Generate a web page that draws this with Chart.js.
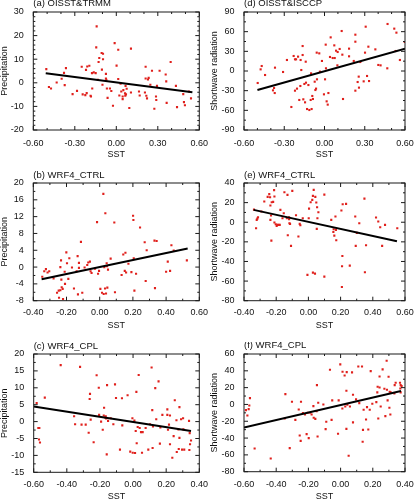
<!DOCTYPE html>
<html><head><meta charset="utf-8">
<script src="https://cdn.jsdelivr.net/npm/chart.js@4.4.0/dist/chart.umd.min.js"></script>
<style>
html,body{margin:0;padding:0;background:#fff;overflow:hidden;}
#wrap{position:relative;width:417px;height:500px;overflow:hidden;}
#wrap canvas{position:absolute;}
</style></head><body><div id="wrap"></div>
<script>
// ---------- DATA ----------
// scatter points [SST anomaly, value]
const ptsA = [[-0.506,5.8],[-0.487,-1.8],[-0.472,-2.4],[-0.431,0.1],[-0.395,1.7],[-0.378,4.2],[-0.364,6.2],[-0.373,-1.0],[-0.316,-4.8],[-0.284,-3.4],[-0.25,6.8],[-0.243,-4.9],[-0.224,-5.2],[-0.214,-4.4],[-0.219,5.5],[-0.21,6.9],[-0.195,7.2],[-0.186,-5.5],[-0.183,-5.8],[-0.176,4.1],[-0.174,-2.4],[-0.163,4.4],[-0.149,4.1],[-0.142,23.9],[-0.145,15.0],[-0.133,1.3],[-0.128,8.8],[-0.123,10.5],[-0.106,12.6],[-0.104,5.6],[-0.096,12.3],[-0.096,10.0],[-0.1,-0.8],[-0.075,1.8],[-0.072,1.3],[-0.075,3.8],[-0.068,-2.4],[-0.063,-6.4],[-0.046,-2.4],[-0.036,-3.5],[-0.024,-9.7],[-0.012,16.8],[0.002,7.3],[0.014,14.0],[0.014,1.6],[0.022,-5.4],[0.031,-0.4],[0.036,-3.7],[0.046,-5.8],[0.046,-6.9],[0.051,-3.1],[0.063,-4.5],[0.065,-5.5],[0.07,-4.9],[0.075,-2.5],[0.067,-1.3],[0.094,-10.7],[0.106,14.5],[0.106,-4.1],[0.164,-3.7],[0.169,-5.4],[0.207,-4.1],[0.212,6.8],[0.212,1.8],[0.217,-5.5],[0.222,-6.6],[0.229,1.4],[0.234,2.1],[0.246,-0.8],[0.258,5.1],[0.275,-11.0],[0.287,-5.8],[0.289,-7.3],[0.294,-1.3],[0.313,5.1],[0.357,3.5],[0.361,0.6],[0.364,-8.5],[0.393,8.8],[0.431,-1.3],[0.439,-10.3],[0.484,-4.8],[0.489,-8.2],[0.496,-9.5],[0.54,-6.6],[0.525,-3.7]];
const ptsD = [[-0.498,-18.3],[-0.476,2.5],[-0.468,7.6],[-0.443,-6.1],[-0.384,-29.5],[-0.376,-25.9],[-0.371,-33.6],[-0.369,5.1],[-0.309,-1.5],[-0.28,16.8],[-0.247,-54.9],[-0.23,22.9],[-0.22,17.8],[-0.212,17.8],[-0.22,-30.0],[-0.205,-26.9],[-0.197,21.9],[-0.188,-44.2],[-0.18,-22.9],[-0.178,16.8],[-0.173,1.5],[-0.163,38.1],[-0.163,24.4],[-0.158,-43.2],[-0.15,-19.8],[-0.14,14.2],[-0.138,-17.8],[-0.145,-47.8],[-0.13,-58.0],[-0.12,-21.4],[-0.113,-59.5],[-0.103,-44.2],[-0.1,-3.6],[-0.096,-58.0],[-0.091,-38.1],[-0.086,-42.7],[-0.073,-16.3],[-0.068,-29.0],[-0.063,-26.9],[-0.058,28.0],[-0.056,-12.7],[-0.039,26.9],[-0.034,-1.0],[-0.019,15.3],[-0.004,-35.6],[0.004,-12.7],[0.009,40.2],[0.011,4.1],[0.016,-46.3],[0.024,-51.3],[0.029,-33.6],[0.041,21.4],[0.046,51.3],[0.061,19.8],[0.073,39.1],[0.076,19.8],[0.086,31.0],[0.098,29.0],[0.096,8.6],[0.113,33.6],[0.128,61.0],[0.133,24.9],[0.138,-42.7],[0.183,34.1],[0.183,22.4],[0.218,15.3],[0.23,55.4],[0.23,44.7],[0.23,-30.0],[0.247,-16.8],[0.255,-8.6],[0.257,-25.4],[0.267,13.7],[0.292,-15.8],[0.302,28.0],[0.307,67.6],[0.317,-7.6],[0.327,37.1],[0.332,-15.3],[0.379,33.0],[0.401,9.2],[0.418,8.6],[0.468,4.1],[0.47,71.7],[0.52,64.6],[0.536,58.5],[0.53,30.5],[0.562,16.8],[0.598,44.2]];
const ptsB = [[-0.346,-2.3],[-0.334,-1.0],[-0.324,-0.5],[-0.314,-1.3],[-0.304,-1.0],[-0.278,-2.7],[-0.257,-6.1],[-0.247,-5.6],[-0.245,-7.3],[-0.237,-5.5],[-0.233,1.6],[-0.237,0],[-0.231,-3.0],[-0.229,-4.8],[-0.223,-5.2],[-0.221,-7.6],[-0.211,-1.1],[-0.209,-4.0],[-0.201,3.5],[-0.197,0.9],[-0.189,-2.8],[-0.183,2.1],[-0.167,-0.1],[-0.155,-5.1],[-0.139,-1.0],[-0.133,2.6],[-0.131,-6.5],[-0.125,1.0],[-0.125,-0.2],[-0.113,6.0],[-0.105,-6.1],[-0.091,-0.1],[-0.075,0.5],[-0.069,1.1],[-0.059,1.3],[-0.055,-1.0],[-0.049,-1.4],[-0.028,-0.4],[-0.016,10.7],[-0.01,-1.6],[-0.004,-0.9],[0.004,-5.2],[0.014,-6.1],[0.022,17.4],[0.024,-6.4],[0.028,0],[0.032,-5.1],[0.034,12.8],[0.038,-6.3],[0.042,0.9],[0.044,0.2],[0.046,-4.9],[0.05,-0.6],[0.066,2.0],[0.088,10.6],[0.092,-6.0],[0.132,-1.9],[0.142,3.0],[0.151,-0.9],[0.155,3.4],[0.159,-1.3],[0.173,0.8],[0.191,-1.2],[0.201,12.2],[0.203,11.2],[0.205,2.1],[0.209,-5.6],[0.219,-1.6],[0.243,9.4],[0.271,5.9],[0.277,-3.3],[0.283,4.0],[0.33,6.3],[0.333,-5.0],[0.343,6.2],[0.4,-1.1],[0.41,1.3],[0.424,-0.9],[0.432,5.2],[0.446,3.9],[0.525,1.6]];
const ptsE = [[-0.338,12.9],[-0.325,-6.1],[-0.321,2.4],[-0.317,3.7],[-0.313,5.1],[-0.292,10.9],[-0.274,21.1],[-0.253,25.9],[-0.243,28.6],[-0.238,25.5],[-0.236,17.0],[-0.236,2.4],[-0.232,6.8],[-0.23,-18.7],[-0.228,20.4],[-0.219,20.7],[-0.213,32.7],[-0.211,26.2],[-0.211,-0.3],[-0.203,-2.0],[-0.197,-3.7],[-0.193,-2.7],[-0.186,-2.7],[-0.178,-2.7],[-0.174,12.6],[-0.161,4.1],[-0.153,9.2],[-0.149,30.6],[-0.134,4.1],[-0.13,27.9],[-0.128,-13.3],[-0.12,5.1],[-0.12,3.1],[-0.118,-1.0],[-0.114,-1.7],[-0.108,-24.1],[-0.1,32.0],[-0.077,7.1],[-0.062,-14.6],[-0.054,-1.7],[-0.05,-3.1],[-0.035,4.1],[-0.006,-53.7],[0.002,4.1],[0.004,13.9],[0.014,20.4],[0.024,22.8],[0.028,26.9],[0.033,33.0],[0.028,-51.4],[0.041,-52.4],[0.043,25.9],[0.049,20.1],[0.052,-6.8],[0.054,15.3],[0.056,4.1],[0.062,10.2],[0.099,28.2],[0.099,-55.4],[0.142,2.4],[0.155,-9.9],[0.157,-7.1],[0.161,-13.6],[0.168,5.8],[0.171,-7.8],[0.173,-18.4],[0.205,11.9],[0.208,-66.0],[0.211,-34.4],[0.209,-44.9],[0.213,18.4],[0.234,18.7],[0.257,-44.2],[0.291,5.8],[0.294,-24.1],[0.301,-10.9],[0.316,-1.0],[0.348,24.1],[0.358,-23.5],[0.351,-51.0],[0.42,4.8],[0.434,0.7],[0.446,-5.1],[0.458,-24.1],[0.476,-2.7],[0.552,-6.1]];
const ptsC = [[-0.582,5.5],[-0.572,-1.9],[-0.566,-1.9],[-0.568,-5.3],[-0.562,-6.2],[-0.533,7.1],[-0.437,16.7],[-0.356,1.6],[-0.35,-0.8],[-0.32,16.2],[-0.311,-0.9],[-0.286,-0.9],[-0.268,-3.3],[-0.262,6.7],[-0.26,8.2],[-0.256,0.6],[-0.238,-6.1],[-0.22,13.7],[-0.207,10.0],[-0.205,2.0],[-0.193,0],[-0.183,-2.4],[-0.177,1.8],[-0.175,4.1],[-0.169,1.2],[-0.165,1.6],[-0.163,0.9],[-0.159,-9.7],[-0.157,10.8],[-0.151,0.2],[-0.135,1.0],[-0.119,-0.8],[-0.109,11.0],[-0.103,7.0],[-0.079,-8.3],[-0.067,6.9],[-0.065,-1.1],[-0.033,7.8],[-0.017,-8.9],[-0.004,1.0],[-0.002,-9.2],[0.008,0.3],[0.012,-9.3],[0.016,-2.8],[0.02,8.8],[0.022,-6.4],[0.028,-1.6],[0.034,13.8],[0.04,-1.9],[0.048,-3.1],[0.054,-9.2],[0.058,-3.1],[0.076,-1.9],[0.092,-8.3],[0.102,-0.8],[0.112,16.0],[0.116,3.4],[0.118,-7.8],[0.12,-1.4],[0.134,9.9],[0.14,0.7],[0.154,11.9],[0.162,-6.5],[0.165,-1.7],[0.177,2.0],[0.207,3.6],[0.207,2.0],[0.211,-2.4],[0.217,-0.9],[0.223,-6.7],[0.223,1.8],[0.237,-10.7],[0.245,-4.3],[0.252,6.3],[0.262,0.4],[0.264,-9.0],[0.274,-2.3],[0.276,-8.1],[0.28,4.3],[0.28,-4.8],[0.29,0.7],[0.296,-8.3],[0.302,1.0],[0.304,-2.3],[0.309,-8.3],[0.338,0.2],[0.34,-8.4],[0.342,-3.4],[0.344,-6.7],[0.35,-5.6]];
const ptsF = [[-0.588,-6.7],[-0.579,-13.1],[-0.571,-5.6],[-0.567,-1.2],[-0.563,7.5],[-0.534,-52.4],[-0.434,-64.3],[-0.347,-16.7],[-0.343,12.3],[-0.302,3.2],[-0.316,-52.0],[-0.281,-18.3],[-0.26,-6.0],[-0.254,-36.9],[-0.248,-43.3],[-0.246,3.2],[-0.234,-10.3],[-0.221,-11.9],[-0.211,-35.3],[-0.204,-9.9],[-0.198,-40.1],[-0.188,-9.9],[-0.18,-11.9],[-0.169,-2.0],[-0.167,-15.9],[-0.157,-17.1],[-0.149,-7.9],[-0.147,23.0],[-0.143,-38.1],[-0.139,2.0],[-0.107,0],[-0.093,-29.4],[-0.089,-20.6],[-0.066,41.3],[-0.056,-18.3],[-0.052,4.8],[-0.016,-34.9],[-0.012,4.8],[-0.002,47.6],[0.011,-4.8],[0.012,38.9],[0.025,34.5],[0.029,-2.4],[0.036,16.3],[0.038,38.5],[0.042,-0.4],[0.05,-61.1],[0.036,-29.0],[0.058,-2.4],[0.071,38.1],[0.077,11.5],[0.077,-21.4],[0.096,6.0],[0.11,45.2],[0.116,1.6],[0.133,45.2],[0.137,-44.4],[0.139,-30.2],[0.143,-6.3],[0.158,-17.9],[0.164,-3.2],[0.172,-29.8],[0.181,-6.3],[0.187,39.7],[0.197,0.8],[0.222,2.8],[0.228,14.3],[0.23,21.0],[0.234,-16.7],[0.242,33.3],[0.242,20.2],[0.249,-2.4],[0.261,41.7],[0.272,18.7],[0.278,-13.9],[0.286,52.0],[0.288,17.5],[0.292,4.8],[0.298,32.9],[0.303,-4.0],[0.305,15.1],[0.309,-11.9],[0.311,14.3],[0.334,13.1],[0.336,23.0],[0.342,25.8],[0.369,25.8],[0.371,19.0],[0.373,23.0],[0.373,14.3],[0.379,21.8]];

// regression line end points [x0, x1] and [y0, y1]
const fitXA = [-0.51, 0.55], fitYA = [4.0, -4.0];
const fitXD = [-0.50, 0.60], fitYD = [-29.0, 34.1];
const fitXB = [-0.35, 0.53], fitYB = [-2.9, 4.4];
const fitXE = [-0.34, 0.55], fitYE = [12.6, -19.4];
const fitXC = [-0.60, 0.35], fitYC = [4.5, -2.8];
const fitXF = [-0.60, 0.375], fitYF = [-27.4, 15.9];

// tick labels
const xTicksObs = [-0.6, -0.3, 0, 0.3, 0.6];
const xTicksCtrl = [-0.4, -0.2, 0, 0.2, 0.4, 0.6];
const xTicksCpl = [-0.6, -0.4, -0.2, 0, 0.2, 0.4];
const yTicksA = [-20, -10, 0, 10, 20, 30];
const yTicksD = [-90, -60, -30, 0, 30, 60, 90];
const yTicksB = [-8, -4, 0, 4, 8, 12, 16, 20];
const yTicksE = [-80, -60, -40, -20, 0, 20, 40];
const yTicksC = [-15, -10, -5, 0, 5, 10, 15, 20];
const yTicksF = [-80, -60, -40, -20, 0, 20, 40, 60];

const titles = ['(a) OISST&TRMM', '(d) OISST&ISCCP', '(b) WRF4_CTRL', '(e) WRF4_CTRL', '(c) WRF4_CPL', '(f) WRF4_CPL'];
const xLabel = 'SST';
const yLabelPr = 'Precipitation';
const yLabelSw = 'Shortwave radiation';

// ---------- LAYOUT (page pixels) ----------
const panels = [
  {title: titles[0], pts: ptsA, fx: fitXA, fy: fitYA, xt: xTicksObs, yt: yTicksA, yl: yLabelPr, xMinor: 3, yMinor: 5,
   L: 33.3, R: 199.3, T: 12, B: 130, cx: 0, cw: 217, tickC: 143.3, sstC: 155, yTitleC: 4.5, titleC: 3.5},
  {title: titles[1], pts: ptsD, fx: fitXD, fy: fitYD, xt: xTicksObs, yt: yTicksD, yl: yLabelSw, xMinor: 3, yMinor: 2,
   L: 244, R: 405, T: 12, B: 130, cx: 205, cw: 212, tickC: 143.5, sstC: 155, yTitleC: 214.5, titleC: 3.5},
  {title: titles[2], pts: ptsB, fx: fitXB, fy: fitYB, xt: xTicksCtrl, yt: yTicksB, yl: yLabelPr, xMinor: 2, yMinor: 2,
   L: 33.3, R: 199.3, T: 183, B: 300.7, cx: 0, cw: 217, tickC: 312.5, sstC: 326, yTitleC: 5, titleC: 175},
  {title: titles[3], pts: ptsE, fx: fitXE, fy: fitYE, xt: xTicksCtrl, yt: yTicksE, yl: yLabelSw, xMinor: 2, yMinor: 2,
   L: 244, R: 405, T: 183, B: 300.7, cx: 205, cw: 212, tickC: 313, sstC: 326, yTitleC: 215, titleC: 175},
  {title: titles[4], pts: ptsC, fx: fitXC, fy: fitYC, xt: xTicksCpl, yt: yTicksC, yl: yLabelPr, xMinor: 2, yMinor: 2,
   L: 33.7, R: 199.3, T: 354, B: 472.3, cx: 0, cw: 217, tickC: 484.5, sstC: 496.5, yTitleC: 4.5, titleC: 346},
  {title: titles[5], pts: ptsF, fx: fitXF, fy: fitYF, xt: xTicksCpl, yt: yTicksF, yl: yLabelSw, xMinor: 2, yMinor: 2,
   L: 244, R: 405, T: 354.3, B: 472, cx: 205, cw: 212, tickC: 484.5, sstC: 496.5, yTitleC: 215, titleC: 346}
];

const FONT = '"Liberation Sans", Arial, Helvetica, sans-serif';
const NARROW = '"Liberation Sans Narrow", "Arial Narrow", ' + FONT;

const framePlugin = {
  id: 'frame',
  afterDatasetsDraw(chart) {
    const o = chart.options.plugins.frame;
    const {ctx, chartArea: a} = chart;
    const xs = chart.scales.x, ys = chart.scales.y;
    ctx.save();
    ctx.strokeStyle = '#1a1a1a';
    ctx.lineWidth = 1;
    ctx.strokeRect(a.left, a.top, a.right - a.left, a.bottom - a.top);
    const seg = (x1, y1, x2, y2) => { ctx.beginPath(); ctx.moveTo(x1, y1); ctx.lineTo(x2, y2); ctx.stroke(); };
    const all = (majors, n) => {
      const out = [];
      for (let i = 0; i < majors.length; i++) {
        out.push([majors[i], 4]);
        if (i < majors.length - 1) {
          for (let k = 1; k < n; k++) out.push([majors[i] + (majors[i + 1] - majors[i]) * k / n, 2]);
        }
      }
      return out;
    };
    all(o.xt, o.xMinor).forEach(([v, len]) => {
      const px = xs.getPixelForValue(v);
      seg(px, a.bottom, px, a.bottom - len);
      seg(px, a.top, px, a.top + len);
    });
    all(o.yt, o.yMinor).forEach(([v, len]) => {
      const py = ys.getPixelForValue(v);
      seg(a.left, py, a.left + len, py);
      seg(a.right, py, a.right - len, py);
    });
    ctx.fillStyle = '#111';
    ctx.font = '9.5px ' + NARROW;
    ctx.textBaseline = 'middle';
    ctx.textAlign = 'left';
    ctx.fillText(o.title, a.left, o.titleY);
    ctx.restore();
  }
};

const wrap = document.getElementById('wrap');
panels.forEach(p => {
  const top = p.T - 12;
  const h = Math.round(p.B + 32 - top);
  const cv = document.createElement('canvas');
  cv.width = p.cw; cv.height = h;
  cv.style.left = p.cx + 'px'; cv.style.top = top + 'px';
  cv.style.width = p.cw + 'px'; cv.style.height = h + 'px';
  wrap.appendChild(cv);
  const localL = p.L - p.cx, localR = p.R - p.cx, localB = p.B - top;
  const xAxisH = h - localB;
  const xTickPad = p.tickC - p.B - 4.5;
  const xTitlePad = (top + h) - p.sstC - 4.5;
  const yTitlePad = Math.max(0, p.yTitleC - p.cx - 4.5);
  new Chart(cv, {
    type: 'scatter',
    data: {
      datasets: [
        {data: p.fx.map((v, i) => ({x: v, y: p.fy[i]})), showLine: true, borderColor: '#000', borderWidth: 2,
         pointRadius: 0, order: 0},
        {data: p.pts.map(d => ({x: d[0], y: d[1]})), pointStyle: 'rect', pointRadius: 1.5, borderWidth: 0,
         backgroundColor: '#e0201c', order: 1}
      ]
    },
    options: {
      responsive: false, animation: false, devicePixelRatio: 1,
      layout: {padding: {left: 0, top: 12, right: p.cw - localR, bottom: 0}},
      plugins: {
        legend: {display: false}, tooltip: {enabled: false},
        frame: {xt: p.xt, yt: p.yt, xMinor: p.xMinor, yMinor: p.yMinor, title: p.title, titleY: p.titleC - top}
      },
      scales: {
        x: {
          type: 'linear', position: 'bottom', min: p.xt[0], max: p.xt[p.xt.length - 1],
          afterBuildTicks: s => { s.ticks = p.xt.map(v => ({value: v})); },
          afterFit: s => { s.height = xAxisH; s.paddingLeft = 0; s.paddingRight = 0; },
          grid: {display: false, drawTicks: false}, border: {display: false},
          ticks: {padding: xTickPad, autoSkip: false, maxRotation: 0, color: '#111',
                  font: {family: FONT, size: 9, lineHeight: 1}, callback: v => Number(v).toFixed(2)},
          title: {display: true, text: xLabel, color: '#111', font: {family: FONT, size: 9, lineHeight: 1},
                  padding: {top: 0, bottom: xTitlePad}}
        },
        y: {
          type: 'linear', position: 'left', min: p.yt[0], max: p.yt[p.yt.length - 1],
          afterBuildTicks: s => { s.ticks = p.yt.map(v => ({value: v})); },
          afterFit: s => { s.width = localL; s.paddingTop = 0; s.paddingBottom = 0; },
          grid: {display: false, drawTicks: false}, border: {display: false},
          ticks: {padding: 9.5, autoSkip: false, color: '#111',
                  font: {family: FONT, size: 9, lineHeight: 1}, callback: v => String(v)},
          title: {display: true, text: p.yl, color: '#111', font: {family: FONT, size: 9, lineHeight: 1},
                  padding: {top: yTitlePad, bottom: 0}}
        }
      }
    },
    plugins: [framePlugin]
  });
});
</script>
</body></html>
